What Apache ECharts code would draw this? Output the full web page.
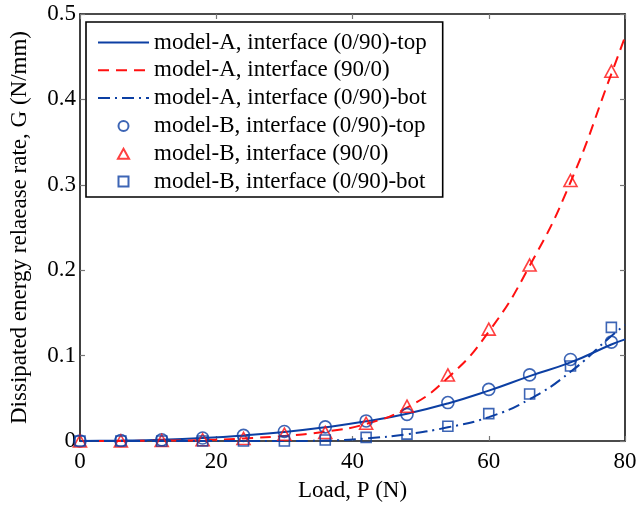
<!DOCTYPE html>
<html>
<head>
<meta charset="utf-8">
<script src="https://cdn.jsdelivr.net/npm/echarts@6/dist/echarts.min.js"></script>
<style>
  html, body { margin: 0; padding: 0; background: #fff; }
  #chart { width: 640px; height: 507px; }
</style>
</head>
<body>
<div id="chart"></div>
<script>
// Load values (N) where model-B was evaluated
const loadB = [0, 6, 12, 18, 24, 30, 36, 42, 48, 54, 60, 66, 72, 78];
// Load values (N) for the model-A curves
const loadA = [0, 6, 12, 18, 24, 30, 36, 42, 48, 54, 60, 66, 72, 78, 80];

// model-A curves, G (N/mm)
const aTop = [0, 0.0005, 0.0015, 0.0035, 0.0065, 0.0105, 0.016, 0.023, 0.032, 0.044, 0.059, 0.076, 0.092, 0.113, 0.119];
const aMid = [0, 0, 0.0005, 0.001, 0.003, 0.006, 0.011, 0.020, 0.039, 0.074, 0.128, 0.205, 0.303, 0.430, 0.473];
const aBot = [0, 0, 0, 0, 0, 0, 0.0005, 0.003, 0.008, 0.016, 0.028, 0.049, 0.081, 0.123, 0.136];

// model-B points, G (N/mm)
const bTop = [0, 0.0005, 0.0015, 0.0035, 0.0066, 0.0112, 0.0165, 0.0235, 0.0312, 0.045, 0.0604, 0.0774, 0.0955, 0.1158];
const bMid = [0, 0, 0.0005, 0.0015, 0.003, 0.008, 0.010, 0.0208, 0.0408, 0.0774, 0.131, 0.206, 0.305, 0.433];
const bBot = [0, 0, 0, 0, 0, 0, 0.0012, 0.0043, 0.0081, 0.0173, 0.032, 0.055, 0.0878, 0.133];

const seriesNames = [
  'model-A, interface (0/90)-top',
  'model-A, interface (90/0)',
  'model-A, interface (0/90)-bot',
  'model-B, interface (0/90)-top',
  'model-B, interface (90/0)',
  'model-B, interface (0/90)-bot'
];

const xTicks = [0, 20, 40, 60, 80];
const yTicks = [0, 0.1, 0.2, 0.3, 0.4, 0.5];

const BLUE = '#0c3fa3';
const RED = '#ff1010';
const FONT = "'Liberation Serif', 'Times New Roman', serif";

// marker outlines as paths so the legend keeps their aspect ratio
const TRI_PATH = 'path://M5,0 L10,9 L0,9 Z';
const SQUARE_PATH = 'path://M0,0 L10,0 L10,10 L0,10 Z';

const pairs = (xs, ys) => xs.map((x, i) => [x, ys[i]]);

const chart = echarts.init(document.getElementById('chart'), null, { renderer: 'canvas' });

const baseAxis = {
  type: 'value',
  axisLine: { show: true, onZero: false, lineStyle: { color: '#111', width: 1.6 } },
  axisTick: { show: true, inside: true, length: 5, lineStyle: { color: '#777', width: 1.2 } },
  splitLine: { show: false }
};

// legend entries: curves show only their line sample, markers keep their shape
const legendData = [
  { name: seriesNames[0], itemStyle: { opacity: 0 } },
  { name: seriesNames[1], itemStyle: { opacity: 0 } },
  { name: seriesNames[2], itemStyle: { opacity: 0 } },
  { name: seriesNames[3], icon: 'circle' },
  { name: seriesNames[4], icon: TRI_PATH },
  { name: seriesNames[5], icon: SQUARE_PATH }
];

const option = {
  backgroundColor: '#fff',
  animation: false,
  textStyle: { fontFamily: FONT },
  grid: { left: 77, right: 15, top: 14, bottom: 60, containLabel: false },
  legend: {
    orient: 'vertical',
    left: 86,
    top: 22,
    data: legendData,
    backgroundColor: '#fff',
    borderColor: '#000',
    borderWidth: 1.6,
    borderRadius: 0,
    padding: [9, 16, 4, 11],
    itemWidth: 51,
    itemHeight: 10,
    itemGap: 4.8,
    symbolKeepAspect: true,
    textStyle: { fontFamily: FONT, fontSize: 23, color: '#000', lineHeight: 23 },
    selectedMode: false
  },
  xAxis: [
    Object.assign({}, baseAxis, {
      min: 0, max: 80, interval: 20, position: 'bottom',
      axisLabel: {
        fontFamily: FONT, fontSize: 23, color: '#000', margin: 9,
        formatter: v => xTicks.includes(v) ? String(v) : ''
      },
      name: 'Load, P (N)', nameLocation: 'middle', nameGap: 38,
      nameTextStyle: { fontFamily: FONT, fontSize: 23, color: '#000' }
    }),
    Object.assign({}, baseAxis, {
      min: 0, max: 80, interval: 20, position: 'top',
      axisLabel: { show: false }
    })
  ],
  yAxis: [
    Object.assign({}, baseAxis, {
      min: 0, max: 0.5, interval: 0.1, position: 'left',
      axisLabel: {
        fontFamily: FONT, fontSize: 23, color: '#000', margin: 4,
        formatter: v => {
          const t = yTicks.find(k => Math.abs(k - v) < 1e-9);
          return t === undefined ? '' : String(t);
        }
      },
      name: 'Dissipated energy relaease rate, G (N/mm)', nameLocation: 'middle', nameGap: 49,
      nameRotate: 90,
      nameTextStyle: { fontFamily: FONT, fontSize: 23, color: '#000' }
    }),
    Object.assign({}, baseAxis, {
      min: 0, max: 0.5, interval: 0.1, position: 'right',
      axisLabel: { show: false }
    })
  ],
  series: [
    {
      name: seriesNames[0], type: 'line', data: pairs(loadA, aTop),
      symbol: 'circle', showSymbol: false, smooth: 0.5,
      lineStyle: { color: BLUE, width: 2, type: 'solid' }, itemStyle: { color: BLUE }, z: 3
    },
    {
      name: seriesNames[1], type: 'line', data: pairs(loadA, aMid),
      symbol: 'circle', showSymbol: false, smooth: 0.5,
      lineStyle: { color: RED, width: 2, type: [11, 7] }, itemStyle: { color: RED }, z: 3
    },
    {
      name: seriesNames[2], type: 'line', data: pairs(loadA, aBot),
      symbol: 'circle', showSymbol: false, smooth: 0.5,
      lineStyle: { color: BLUE, width: 2, type: [12, 5, 2, 5] }, itemStyle: { color: BLUE }, z: 3
    },
    {
      name: seriesNames[3], type: 'scatter', data: pairs(loadB, bTop),
      symbol: 'circle', symbolSize: 12,
      itemStyle: { color: 'none', borderColor: BLUE, borderWidth: 1.6 }, z: 4
    },
    {
      name: seriesNames[4], type: 'scatter', data: pairs(loadB, bMid),
      symbol: 'triangle', symbolSize: [13, 12],
      itemStyle: { color: 'none', borderColor: RED, borderWidth: 1.6 }, z: 4
    },
    {
      name: seriesNames[5], type: 'scatter', data: pairs(loadB, bBot),
      symbol: 'rect', symbolSize: 10,
      itemStyle: { color: 'none', borderColor: BLUE, borderWidth: 1.6 }, z: 4
    }
  ]
};

chart.setOption(option);
</script>
</body>
</html>
